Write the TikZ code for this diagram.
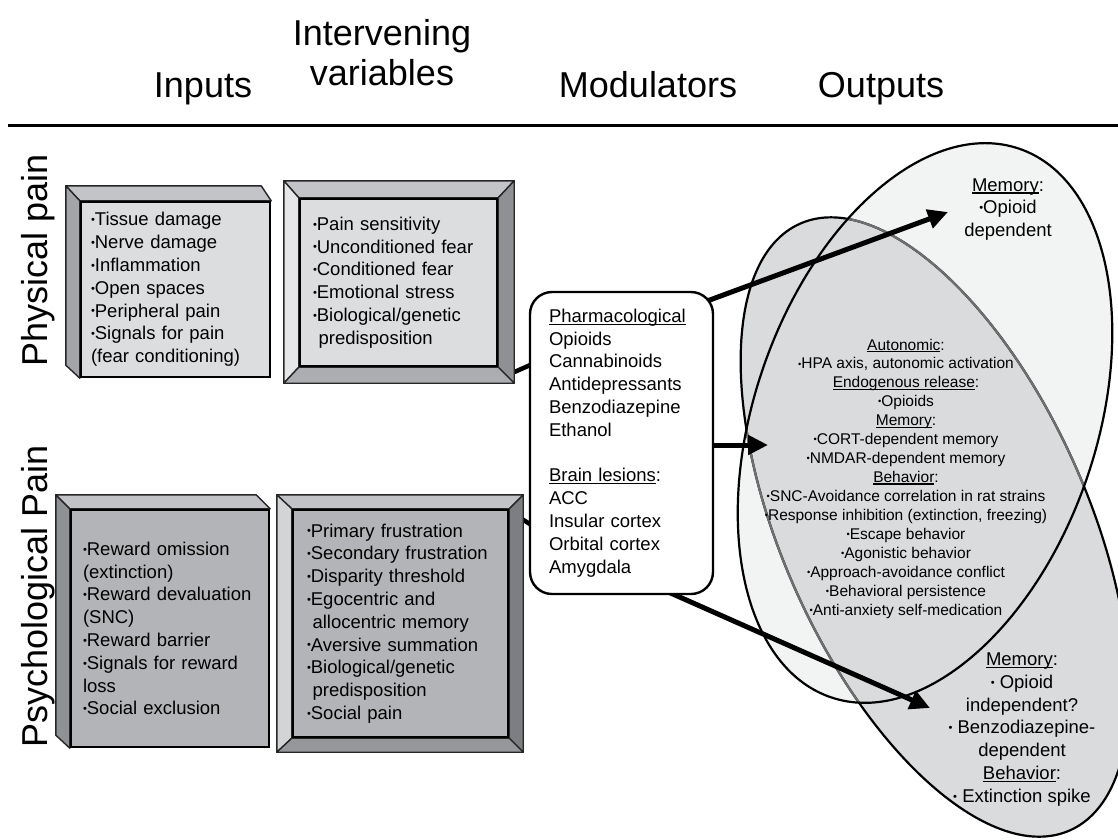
\documentclass[tikz,border=0pt]{standalone}
\usepackage{fontspec}
\setmainfont{Liberation Sans}
\usetikzlibrary{arrows.meta}
\usetikzlibrary{calc}
\usetikzlibrary{backgrounds}

\definecolor{paleFace}{HTML}{DCDDDF}
\definecolor{paleTop}{HTML}{C3C4C7}
\definecolor{paleSide}{HTML}{A3A5A9}
\definecolor{paleLite}{HTML}{E6E7E9}
\definecolor{paleDark}{HTML}{8E9094}
\definecolor{paleLow}{HTML}{ABADB0}
\definecolor{darkFace}{HTML}{B3B4B7}
\definecolor{darkTop}{HTML}{C2C3C6}
\definecolor{darkSide}{HTML}{8F9195}
\definecolor{darkLite}{HTML}{D3D4D6}
\definecolor{darkDark}{HTML}{7C7E82}
\definecolor{darkLow}{HTML}{95979B}
\definecolor{ovalLite}{HTML}{F2F3F3}
\definecolor{ovalGray}{HTML}{DADBDD}
\definecolor{ovalLine}{HTML}{6E6F71}

\newcommand{\headfont}{\fontsize{36}{40}\selectfont}
\newcommand{\boxfont}{\fontsize{18.5}{22.8}\selectfont}
\newcommand{\smallfont}{\fontsize{15.5}{18.93}\selectfont}
\newcommand{\bul}{\raisebox{0.12em}{\scalebox{0.6}{•}}}
\newsavebox{\ulbox}
\newcommand{\ul}[1]{\leavevmode\sbox{\ulbox}{#1}\rlap{\rule[-0.13em]{\wd\ulbox}{0.07em}}\usebox{\ulbox}}

\tikzset{
  head/.style={font=\headfont, inner sep=0pt},
  slab/.style={draw, line width=2.4pt, inner ysep=0pt, align=left, font=\boxfont},
  bevel/.style={draw=black!85, line width=1.4pt, line join=round},
  modbox/.style={draw, fill=white, line width=2.4pt, rounded corners=22pt,
    align=left, font=\boxfont, inner xsep=19pt, text width=145pt,
    minimum height=302pt},
  link/.style={line width=4.5pt},
  arr/.style={line width=5pt, -{Triangle[length=20pt,width=19pt]}},
  outtxt/.style={align=center, font=\boxfont, inner sep=0pt},
  outsmall/.style={align=center, font=\smallfont, inner sep=0pt}
}

\begin{document}
\begin{tikzpicture}[x=1pt,y=-1pt]
\useasboundingbox (0,0) rectangle (1118,839);

% column heads
\node[head, anchor=base] (hIn) at (203,97) {Inputs};
\node[head, anchor=base] (hIv) at (382,45) {Intervening};
\node[head, anchor=base] (hIvb) at (382,85) {variables};
\node[head, anchor=base] (hMod) at (648,97) {Modulators};
\node[head, anchor=base] (hOut) at (881,97) {Outputs};
\coordinate (ruleL) at (8,125);
\coordinate (ruleR) at (1118,125);
\draw[line width=3pt] (ruleL) -- (ruleR);

% row labels
\node[head, rotate=90, anchor=base] (lPhys) at (47,260) {Physical pain};
\node[head, rotate=90, anchor=base] (lPsy) at (47,596) {Psychological Pain};

% boxes
\node[slab, fill=paleFace, inner xsep=10pt, text width=169pt, minimum height=175pt] (physIn) at (175.5,289.5)
  {\bul Tissue damage\\\bul Nerve damage\\\bul Inflammation\\\bul Open spaces\\\bul Peripheral pain\\\bul Signals for pain\\(fear conditioning)};
\node[slab, fill=paleFace, inner xsep=13pt, text width=171pt, minimum height=167pt] (physIv) at (398.5,282.5)
  {\bul Pain sensitivity\\\bul Unconditioned fear\\\bul Conditioned fear\\\bul Emotional stress\\\bul Biological/genetic\\\hspace*{0.3em}predisposition};
\node[slab, fill=darkFace, inner xsep=12pt, text width=174pt, minimum height=237pt] (psyIn) at (170,628.5)
  {\bul Reward omission\\(extinction)\\\bul Reward devaluation\\(SNC)\\\bul Reward barrier\\\bul Signals for reward\\loss\\\bul Social exclusion};
\node[slab, fill=darkFace, inner xsep=14pt, text width=187pt, minimum height=227pt] (psyIv) at (400.5,623.5)
  {\bul Primary frustration\\\bul Secondary frustration\\\bul Disparity threshold\\\bul Egocentric and\\\hspace*{0.3em}allocentric memory\\\bul Aversive summation\\\bul Biological/genetic\\\hspace*{0.3em}predisposition\\\bul Social pain};

% modulators
\node[modbox] (mod) at (621.5,443)
  {\ul{Pharmacological}\\Opioids\\Cannabinoids\\Antidepressants\\Benzodiazepine\\Ethanol\\[22.8pt]\ul{Brain lesions}:\\ACC\\Insular cortex\\Orbital cortex\\Amygdala};

% outputs
\coordinate (ovA) at (925,423);
\coordinate (ovB) at (935,527);
\coordinate (tipDep) at (948,212);
\coordinate (tipAuto) at (768,445);
\coordinate (tipInd) at (930,708);

\node[outtxt] (outDep) at (1008,209.5) {\ul{Memory}:\\\bul Opioid\\dependent};
\node[outsmall] (outAuto) at (906,478.5)
  {\ul{Autonomic}:\\\bul HPA axis, autonomic activation\\\ul{Endogenous release}:\\\bul Opioids\\
   \ul{Memory}:\\\bul CORT-dependent memory\\\bul NMDAR-dependent memory\\\ul{Behavior}:\\
   \bul SNC-Avoidance correlation in rat strains\\\bul Response inhibition (extinction, freezing)\\
   \bul Escape behavior\\\bul Agonistic behavior\\\bul Approach-avoidance conflict\\
   \bul Behavioral persistence\\\bul Anti-anxiety self-medication};
\node[outtxt] (outInd) at (1022,729.5)
  {\ul{Memory}:\\\bul\ Opioid\\independent?\\\bul\ Benzodiazepine-\\dependent\\\ul{Behavior}:\\\bul\ Extinction spike};

\begin{scope}[on background layer]
% ovals
\fill[ovalLite, rotate around={71:(ovA)}] (ovA) ellipse [x radius=290, y radius=171];
\filldraw[fill=ovalGray, line width=2.2pt, rotate around={-66:(ovB)}] (ovB) ellipse [x radius=332, y radius=153];
\begin{scope}
\clip[rotate around={71:(ovA)}] (ovA) ellipse [x radius=290, y radius=171];
\draw[ovalLine, line width=2.2pt, rotate around={-66:(ovB)}] (ovB) ellipse [x radius=332, y radius=153];
\end{scope}
\draw[line width=2.2pt, rotate around={71:(ovA)}] (ovA) ellipse [x radius=290, y radius=171];

% connectors
\draw[link] ($(physIv.south east)+(0,12)$) -- ($(mod.west)+(15,-84)$);
\draw[link] ($(psyIv.north east)+(0,2)$) -- ($(mod.west)+(15,90)$);
\draw[arr] ($(mod.north east)+(-12,12)$) -- (tipDep);
\draw[arr] ($(mod.east)+(-10,2)$) -- (tipAuto);
\draw[arr] ($(mod.south)+(45,-4)$) -- (tipInd);

% bevels
\filldraw[bevel, fill=paleTop] (physIn.north west) -- ++(-14,-15) -- ($(physIn.north east)+(-10,-15)$) -- (physIn.north east) -- cycle;
\filldraw[bevel, fill=paleSide] (physIn.north west) -- ++(-14,-15) -- ($(physIn.south west)+(-14,-13)$) -- (physIn.south west) -- cycle;

\coordinate (pvNW) at ($(physIv.north west)+(-15,-17)$);
\coordinate (pvNE) at ($(physIv.north east)+(16,-17)$);
\coordinate (pvSE) at ($(physIv.south east)+(16,16)$);
\coordinate (pvSW) at ($(physIv.south west)+(-15,16)$);
\filldraw[bevel, fill=paleTop] (pvNW) -- (pvNE) -- (physIv.north east) -- (physIv.north west) -- cycle;
\filldraw[bevel, fill=paleLite] (pvNW) -- (physIv.north west) -- (physIv.south west) -- (pvSW) -- cycle;
\filldraw[bevel, fill=paleDark] (pvNE) -- (pvSE) -- (physIv.south east) -- (physIv.north east) -- cycle;
\filldraw[bevel, fill=paleLow] (pvSW) -- (physIv.south west) -- (physIv.south east) -- (pvSE) -- cycle;

\filldraw[bevel, fill=darkTop] (psyIn.north west) -- ++(-14,-14) -- ($(psyIn.north east)+(-14,-14)$) -- (psyIn.north east) -- cycle;
\filldraw[bevel, fill=darkSide] (psyIn.north west) -- ++(-14,-14) -- ($(psyIn.south west)+(-14,-13)$) -- (psyIn.south west) -- cycle;

\coordinate (yvNW) at ($(psyIv.north west)+(-15,-14)$);
\coordinate (yvNE) at ($(psyIv.north east)+(14,-14)$);
\coordinate (yvSE) at ($(psyIv.south east)+(14,14)$);
\coordinate (yvSW) at ($(psyIv.south west)+(-15,14)$);
\filldraw[bevel, fill=darkTop] (yvNW) -- (yvNE) -- (psyIv.north east) -- (psyIv.north west) -- cycle;
\filldraw[bevel, fill=darkLite] (yvNW) -- (psyIv.north west) -- (psyIv.south west) -- (yvSW) -- cycle;
\filldraw[bevel, fill=darkDark] (yvNE) -- (yvSE) -- (psyIv.south east) -- (psyIv.north east) -- cycle;
\filldraw[bevel, fill=darkLow] (yvSW) -- (psyIv.south west) -- (psyIv.south east) -- (yvSE) -- cycle;
\end{scope}
\end{tikzpicture}
\end{document}
